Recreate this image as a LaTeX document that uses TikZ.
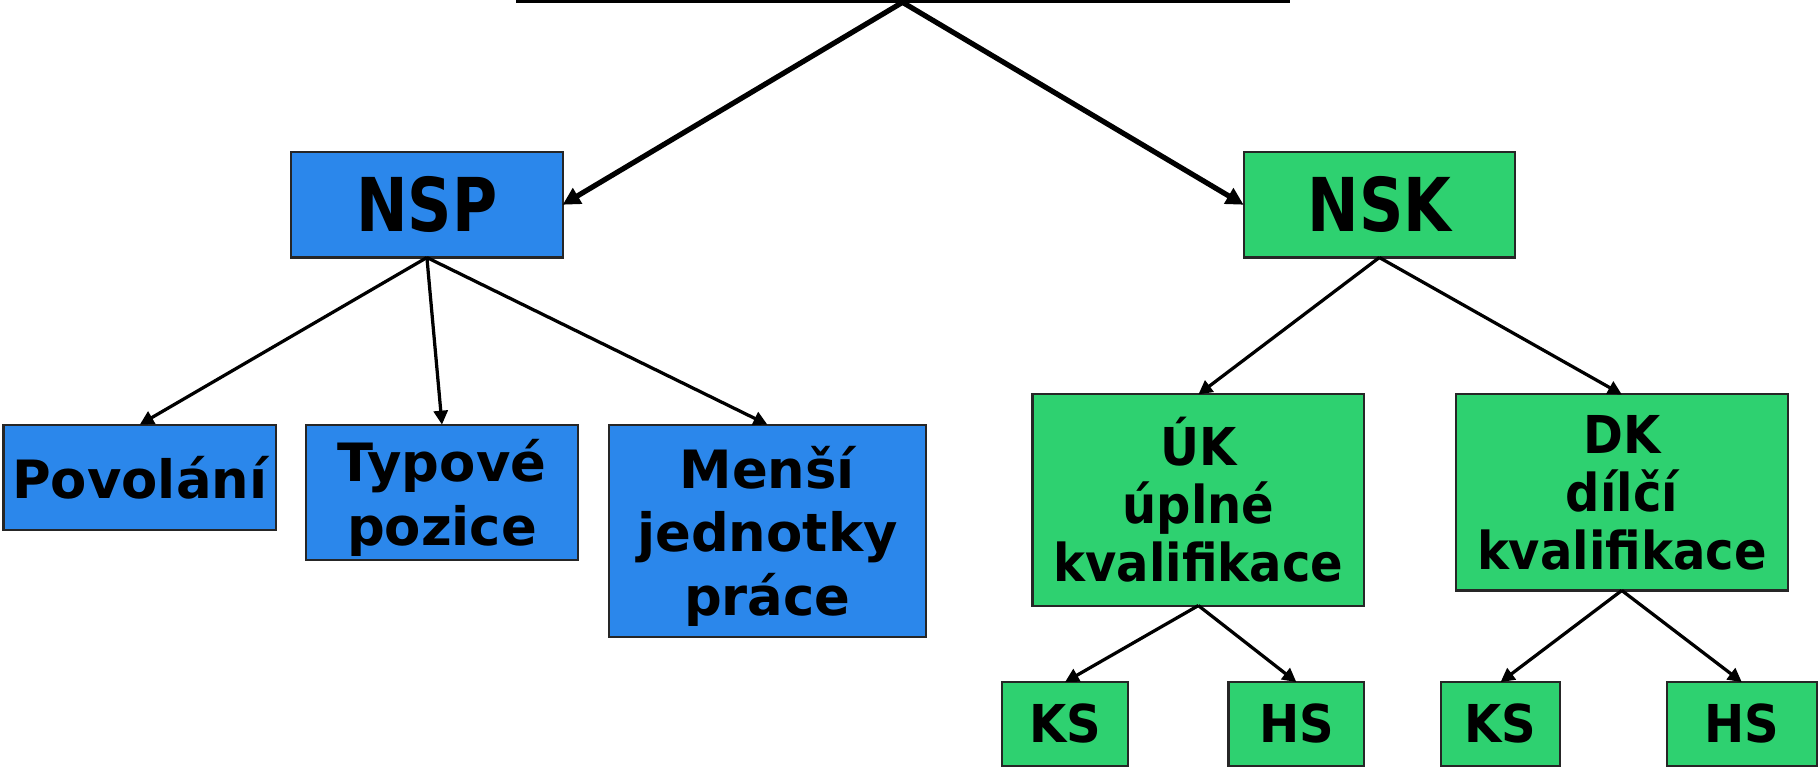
\documentclass[tikz,border=0pt]{standalone}
\usepackage{fontspec}
\newfontfamily\vfbig{DejaVu Sans}[FakeStretch=0.83]
\newfontfamily\vfblue{DejaVu Sans}[FakeStretch=1.0]
\newfontfamily\vfgreen{DejaVu Sans}[FakeStretch=0.92]
\usetikzlibrary{arrows.meta}
\definecolor{bblue}{RGB}{43,135,235}
\definecolor{bgreen}{RGB}{46,209,112}
\tikzset{
  box/.style={draw=black!85, line width=1.8pt, inner sep=0pt, outer sep=0pt, align=center},
  bbox/.style={box, fill=bblue, font=\vfblue\bfseries\fontsize{45.5}{54.5}\selectfont},
  gbox/.style={box, fill=bgreen, font=\vfgreen\bfseries\fontsize{45}{50}\selectfont},
  big/.style={font=\vfbig\bfseries\fontsize{64}{70}\selectfont},
  thickarr/.style={line width=4.5pt, -{Triangle[length=15pt,width=15pt]}},
  thinarr/.style={line width=2.8pt, -{Triangle[length=12pt,width=12pt]}},
}
\begin{document}
\begin{tikzpicture}[x=1pt,y=-1pt]
\useasboundingbox (0,0) rectangle (1568,663);
\coordinate (tl) at (445,1);
\coordinate (tr) at (1112,1);
\coordinate (top) at (778,2);
\draw[line width=2.5pt] (tl) -- (tr);

\node[bbox, big, minimum width=234, minimum height=91] (nsp) at (368,176.5) {NSP};
\node[gbox, big, minimum width=234, minimum height=91] (nsk) at (1189,176.5) {NSK};

\node[bbox, minimum width=235, minimum height=91] (pov) at (120.5,411.5) {Povolání};
\node[bbox, text depth=0pt, minimum width=234, minimum height=117] (typ) at (381,424.5) {Typové\\pozice};
\node[bbox, text depth=0pt, minimum width=273, minimum height=183] (men) at (661.5,457.5) {Menší\\jednotky\\práce};

\node[gbox, minimum width=286, minimum height=182] (uk) at (1033,431) {ÚK\\úplné\\kvalifikace};
\node[gbox, minimum width=286, minimum height=169] (dk) at (1398,424.5) {DK\\dílčí\\kvalifikace};

\node[gbox, minimum width=108, minimum height=72] (ks1) at (918,624) {KS};
\node[gbox, minimum width=117, minimum height=72] (hs1) at (1117.5,624) {HS};
\node[gbox, minimum width=103, minimum height=72] (ks2) at (1293.5,624) {KS};
\node[gbox, minimum width=129, minimum height=72] (hs2) at (1501.5,624) {HS};

\draw[thickarr] (top) -- (nsp.east);
\draw[thickarr] (top) -- (nsk.west);

\draw[thinarr] (nsp.south) -- (pov.north);
\draw[thinarr] (nsp.south) -- (typ.north);
\draw[thinarr] (nsp.south) -- (men.north);

\draw[thinarr] (nsk.south) -- (uk.north);
\draw[thinarr] (nsk.south) -- (dk.north);

\draw[thinarr] (uk.south) -- (ks1.north);
\draw[thinarr] (uk.south) -- (hs1.north);
\draw[thinarr] (dk.south) -- (ks2.north);
\draw[thinarr] (dk.south) -- (hs2.north);
\end{tikzpicture}
\end{document}
